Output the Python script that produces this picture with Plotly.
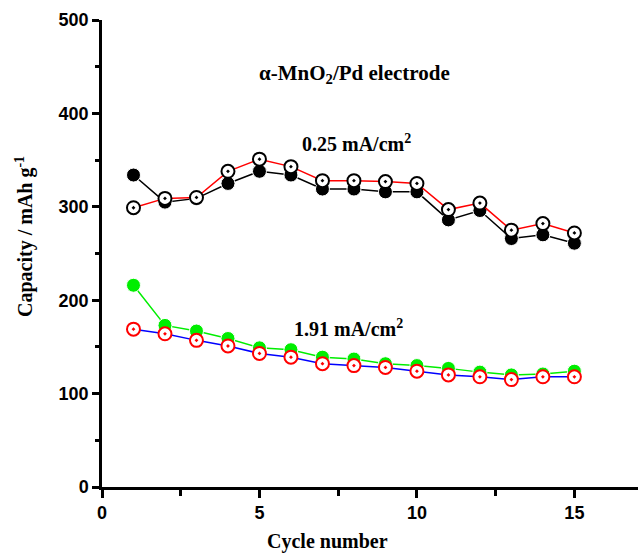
import plotly.graph_objects as go

cycles = list(range(1, 16))
cap_025_filled = [334, 305, 309, 325, 338, 334, 319, 319, 316, 316, 286, 296, 266, 270, 261]
cap_025_open = [299, 309, 310, 338, 351, 343, 328, 328, 327, 325, 297, 304, 275, 282, 272]
cap_191_filled = [216, 173, 167, 159, 149, 147, 139, 137, 132, 130, 127, 123, 120, 121, 124]
cap_191_open = [169, 164, 157, 151, 143, 139, 132, 130, 128, 124, 120, 118, 115, 118, 118]

x_ticks = [0, 5, 10, 15]
y_ticks = [0, 100, 200, 300, 400, 500]

serif = "Liberation Serif"
sans = "Liberation Sans"

W, H = 638, 555
ML, MR, MT, MB = 102, 0, 20, 68
PW, PH = W - ML - MR, H - MT - MB


def px_x(p):
    return (p - ML) / PW


def px_y(p):
    return (H - MB - p) / PH


fig = go.Figure()

fig.add_trace(go.Scatter(
    x=cycles, y=cap_025_filled, mode="lines+markers",
    line=dict(color="black", width=1.5),
    marker=dict(symbol="circle", size=14, color="black", line=dict(color="white", width=1)),
    cliponaxis=False, showlegend=False))
fig.add_trace(go.Scatter(
    x=cycles, y=cap_025_open, mode="lines+markers",
    line=dict(color="#ff0000", width=1.5),
    marker=dict(symbol="circle-dot", size=13, color="white", line=dict(color="black", width=2)),
    cliponaxis=False, showlegend=False))
fig.add_trace(go.Scatter(
    x=cycles, y=cap_191_filled, mode="lines+markers",
    line=dict(color="#00ee00", width=1.5),
    marker=dict(symbol="circle", size=14, color="#00ee00", line=dict(color="white", width=1)),
    cliponaxis=False, showlegend=False))
fig.add_trace(go.Scatter(
    x=cycles, y=cap_191_open, mode="lines+markers",
    line=dict(color="#0000ff", width=1.5),
    marker=dict(symbol="circle-dot", size=13, color="white", line=dict(color="#ff0000", width=2)),
    cliponaxis=False, showlegend=False))


def ann(px, py, text, size, angle=0):
    return dict(x=px_x(px), y=px_y(py), xref="paper", yref="paper",
                xanchor="center", yanchor="middle", showarrow=False,
                text=text, textangle=angle,
                font=dict(family=serif, size=size, color="black"))


fig.update_layout(
    width=W, height=H,
    margin=dict(l=ML, r=MR, t=MT, b=MB),
    plot_bgcolor="white", paper_bgcolor="white",
    xaxis=dict(
        range=[0, 17.02], tickvals=x_ticks, ticktext=[str(v) for v in x_ticks],
        showline=True, linecolor="black", linewidth=2.5,
        ticks="outside", ticklen=8, tickwidth=2.5, tickcolor="black",
        minor=dict(dtick=2.5, tick0=0, ticks="outside", ticklen=6, tickwidth=2.5, tickcolor="black", showgrid=False),
        showgrid=False, zeroline=False,
        tickfont=dict(family=sans, size=18, color="black", weight="bold"),
    ),
    yaxis=dict(
        range=[0, 500], tickvals=y_ticks, ticktext=[str(v) for v in y_ticks],
        showline=True, linecolor="black", linewidth=2.5,
        ticks="outside", ticklen=7, tickwidth=2.5, tickcolor="black",
        minor=dict(dtick=50, tick0=0, ticks="outside", ticklen=4, tickwidth=2.5, tickcolor="black", showgrid=False),
        showgrid=False, zeroline=False,
        tickfont=dict(family=sans, size=18, color="black", weight="bold"),
    ),
    annotations=[
        ann(354, 74, "<b>α-MnO<sub>2</sub>/Pd electrode</b>", 21),
        ann(356, 143, "<b>0.25 mA/cm<sup>2</sup></b>", 20),
        ann(348, 328, "<b>1.91 mA/cm<sup>2</sup></b>", 20),
        ann(327, 541, "<b>Cycle number</b>", 20),
        ann(25, 237, "<b>Capacity / mAh g<sup>-1</sup></b>", 20, -90),
    ],
)

fig.write_html("out.html")
